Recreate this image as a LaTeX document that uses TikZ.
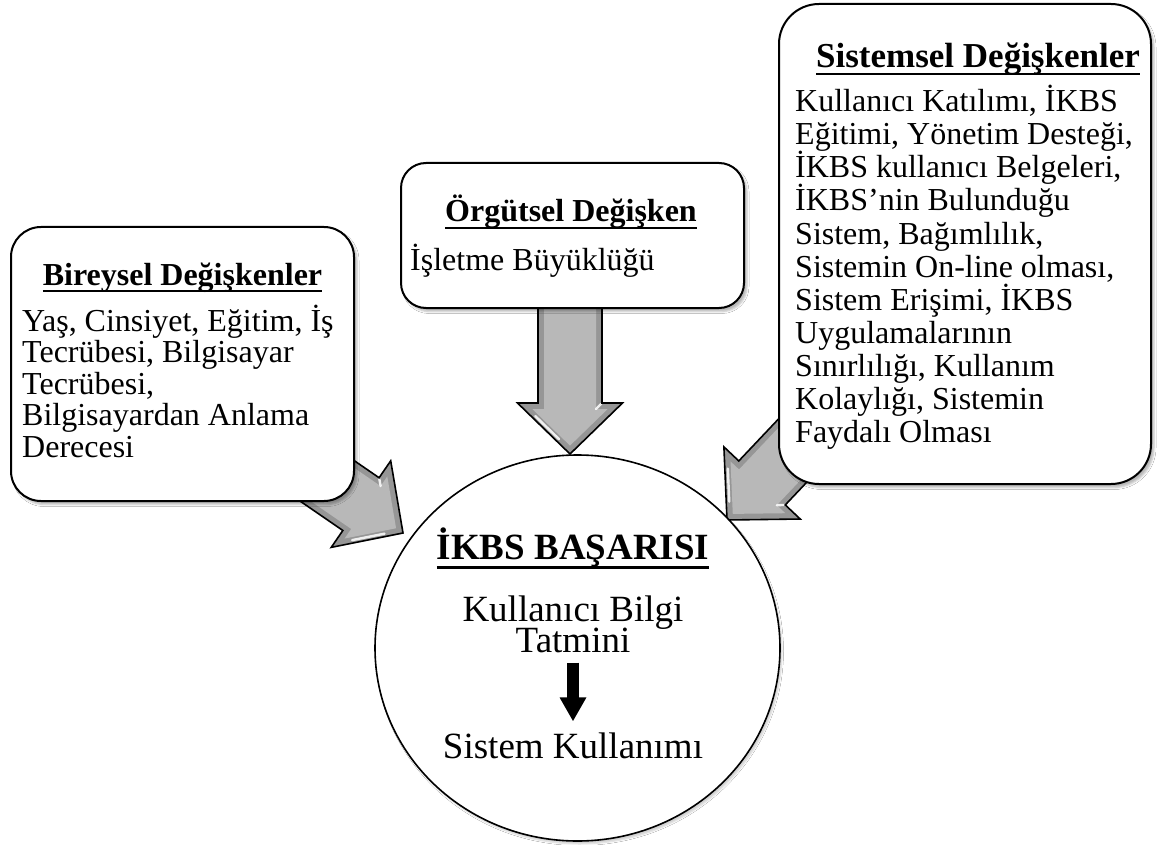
\documentclass[tikz,border=0pt]{standalone}
\usepackage{fontspec}
\setmainfont{Liberation Serif}
\usetikzlibrary{shapes.geometric,arrows.meta,shadows.blur}

% underline drawn at a fixed depth below the baseline: #1 depth, #2 thickness, #3 text
\newcommand\ulbar[3]{\setbox0\hbox{#3}\rlap{\rule[-#1]{\wd0}{#2}}\box0}

\definecolor{arrowrim}{RGB}{150,150,150}
\definecolor{arrowface}{RGB}{184,184,184}

% bevelled block arrow: tip x, tip y, rotation, shaft length
\newcommand\blockarrow[4]{%
  \begin{scope}[shift={(#1,#2)}, rotate=#3]
    \fill[arrowrim] (0,0) -- (-51,52.5) -- (-51,32) -- (-#4,32) -- (-#4,-32)
      -- (-51,-32) -- (-51,-52.5) -- cycle;
    \fill[arrowface] (-8.4,0) -- (-45,37.7) -- (-45,26) -- (-#4+6,26)
      -- (-#4+6,-26) -- (-45,-26) -- (-45,-37.7) -- cycle;
    \draw[glint] (-37.9,34.7) -- (-14.9,11);
    \draw[glint] (-50,-31) -- (-45,-26);
    \draw[line width=1.6pt, line join=miter] (0,0) -- (-51,52.5) -- (-51,32)
      -- (-#4,32) -- (-#4,-32) -- (-51,-32) -- (-51,-52.5) -- cycle;
  \end{scope}}

\begin{document}
\begin{tikzpicture}[x=1pt, y=-1pt,
  panel/.style={draw=black, line width=2pt, fill=white, rounded corners=#1,
    inner sep=0pt, anchor=north west,
    blur shadow={shadow xshift=3pt, shadow yshift=-3.5pt,
      shadow blur radius=2pt, shadow opacity=28}},
  panel/.default=30pt,
  glint/.style={white, line width=2.4pt, line cap=round, opacity=0.85},
  body/.style={font=\fontsize{32}{38}\selectfont, inner sep=0pt, anchor=base west},
  head/.style={font=\fontsize{32}{38}\selectfont\bfseries, inner sep=0pt, anchor=base},
  ctxt/.style={font=\fontsize{37}{44}\selectfont, inner sep=0pt, anchor=base}]

\useasboundingbox[fill=white] (0,0) rectangle (1165,845);

% block arrows (tails run under the boxes)
\blockarrow{403}{533}{-34.5}{120}
\blockarrow{570}{454}{-90}{170}
\blockarrow{727}{520}{-133.4}{130}

% central success circle
\node[ellipse, draw=black, line width=1.6pt, fill=white, inner sep=0pt,
  minimum width=405pt, minimum height=386pt,
  blur shadow={shadow xshift=2pt, shadow yshift=-3pt,
    shadow blur radius=1.5pt, shadow opacity=18}] (succ) at (577.5,648) {};

\node[ctxt] (stitle) at (573,559) {\bfseries\ulbar{9.5pt}{3pt}{İKBS BAŞARISI}};
\node[ctxt] (kbt) at (573,621) {Kullanıcı Bilgi};
\node[ctxt] (tat) at (573,652) {Tatmini};
\node[ctxt] (sk) at (573,758) {Sistem Kullanımı};
\draw[line width=12pt, -{Triangle[length=24pt,width=25pt]},
  shorten <=10pt, shorten >=10.7pt] (tat) -- (sk);

% individual variables
\node[panel=30pt, minimum width=343pt, minimum height=274pt] (bir) at (10,226) {};
\node[head] (birt) at (182.5,285) {\ulbar{7pt}{2.2pt}{Bireysel Değişkenler}};
\foreach \t [count=\i from 0] in {{Yaş, Cinsiyet, Eğitim, İş},
    {Tecrübesi, Bilgisayar}, {Tecrübesi,}, {Bilgisayardan Anlama}, {Derecesi}}
  \node[body, name=bl\i] at (22,331+31.6*\i) {\t};

% organisational variable
\node[panel=25pt, minimum width=343pt, minimum height=145pt] (org) at (400,162) {};
\node[head] (orgt) at (571,222) {\ulbar{7pt}{2.2pt}{Örgütsel Değişken}};
\node[body] (orgb) at (410,270) {İşletme Büyüklüğü};

% system variables
\node[panel=40pt, minimum width=372pt, minimum height=480pt] (sis) at (778,3) {};
\node[head, font=\fontsize{35}{40}\selectfont\bfseries] (sist) at (978,68)
  {\ulbar{7pt}{2.3pt}{Sistemsel Değişkenler}};
\foreach \t [count=\i from 0] in {{Kullanıcı Katılımı, İKBS},
    {Eğitimi, Yönetim Desteği,}, {İKBS kullanıcı Belgeleri,},
    {İKBS’nin Bulunduğu}, {Sistem, Bağımlılık,}, {Sistemin On-line olması,},
    {Sistem Erişimi, İKBS}, {Uygulamalarının}, {Sınırlılığı, Kullanım},
    {Kolaylığı, Sistemin}, {Faydalı Olması}}
  \node[body, name=sl\i] at (795,112+33*\i) {\t};

\end{tikzpicture}
\end{document}
